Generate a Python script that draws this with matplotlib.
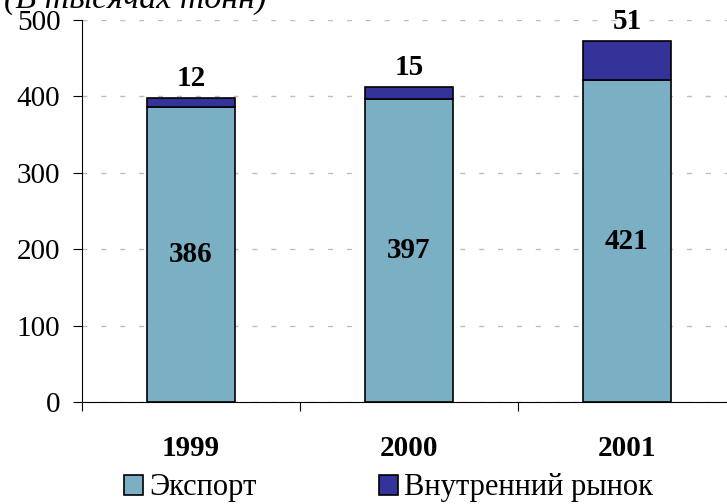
import matplotlib.pyplot as plt
import numpy as np

# data
years = ["1999", "2000", "2001"]
export = [386, 397, 421]
domestic = [12, 15, 51]

plt.rcParams['font.family'] = ['Liberation Serif', 'DejaVu Serif']

fig = plt.figure(figsize=(7.27, 5.04), dpi=100)
ax = fig.add_axes([82 / 727, 102 / 504, 654 / 727, 382 / 504])

x = np.arange(len(years))
w = 0.4
ax.bar(x, export, w, color='#7BAFC4', edgecolor='black', linewidth=1.2, label='Экспорт', zorder=3)
ax.bar(x, domestic, w, bottom=export, color='#333399', edgecolor='black', linewidth=1.2,
       label='Внутренний рынок', zorder=3)

# value labels
for i in range(len(years)):
    ax.text(x[i], export[i] / 2, str(export[i]), ha='center', va='center',
            fontsize=21, fontweight='bold', zorder=4)
    ax.text(x[i], export[i] + domestic[i] + 8, str(domestic[i]), ha='center', va='bottom',
            fontsize=21, fontweight='bold', zorder=4)

ax.set_xlim(-0.5, 2.5)
ax.set_ylim(0, 500)
ax.set_yticks(range(0, 501, 100))
ax.tick_params(axis='y', labelsize=21, length=6.5, width=0.8, direction='out', pad=9)

# x ticks between categories, year labels below
ax.set_xticks([-0.5, 0.5, 1.5, 2.5])
ax.set_xticklabels([])
ax.set_xticks(x, minor=True)
ax.set_xticklabels(years, minor=True, fontsize=21, fontweight='bold')
ax.tick_params(axis='x', which='major', length=6.5, width=0.8, direction='out')
ax.tick_params(axis='x', which='minor', length=0, pad=24)

ax.yaxis.grid(True, linestyle=(0, (3.6, 10)), color='#BDBDBD', linewidth=1.0, zorder=0)
for s in ['top', 'right']:
    ax.spines[s].set_visible(False)
ax.spines['left'].set_linewidth(0.8)
ax.spines['bottom'].set_linewidth(0.8)

# title sits partly above the top edge, as in the source image
fig.text(0.006, 496 / 504, "(В тысячах тонн)", fontsize=24.5, fontstyle='italic', va='baseline')

fig.legend(loc='center', bbox_to_anchor=(0.534, 0.032), ncol=2, frameon=False,
           fontsize=22, handlelength=0.62, handleheight=0.62, handletextpad=0.2,
           columnspacing=4.0, borderpad=0, borderaxespad=0)

fig.savefig("out.png", dpi=100)
